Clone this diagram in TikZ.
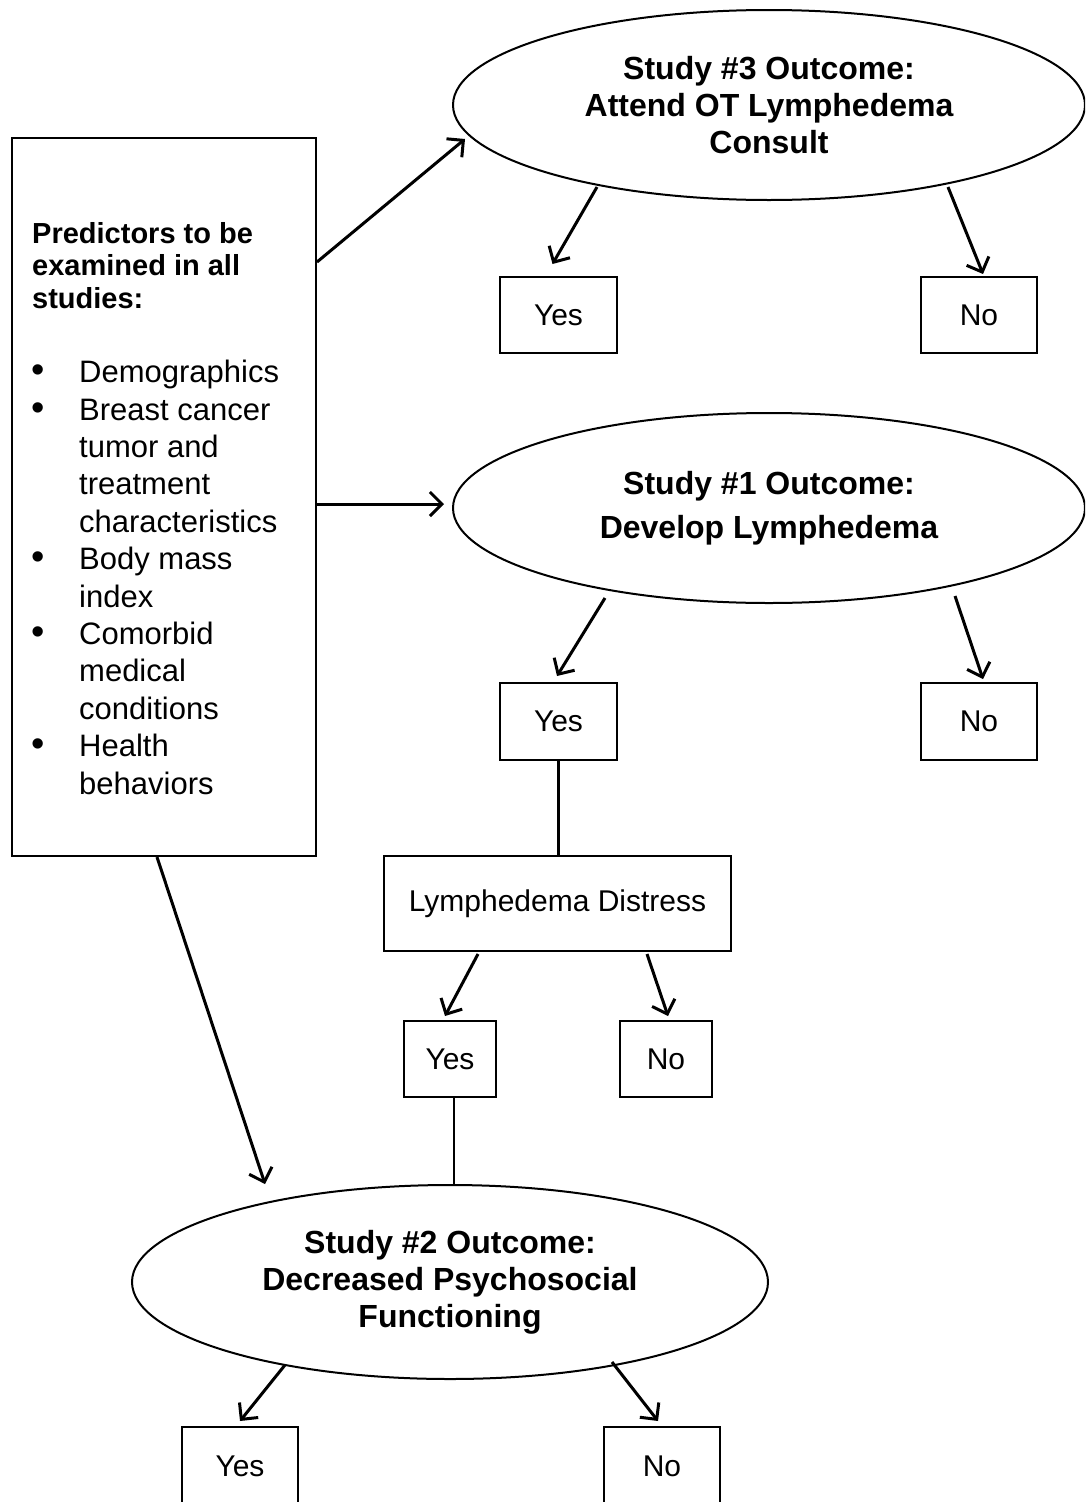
\documentclass[tikz,border=0pt]{standalone}
\usepackage{fontspec}
\setmainfont{Liberation Sans}
\usetikzlibrary{arrows.meta,shapes.geometric}
\begin{document}
\begin{tikzpicture}[x=1pt,y=-1pt,
  box/.style={draw, line width=2pt, rectangle, inner sep=0pt, font=\fontsize{30}{36}\selectfont},
  oval/.style={draw, line width=2pt, ellipse, minimum width=632pt, minimum height=190pt, inner sep=0pt, align=center, font=\fontsize{32}{37}\selectfont\bfseries},
  arr/.style={line width=3pt, -{Straight Barb[length=12pt,width=24pt]}},
  link/.style={line width=2.6pt},
  btxt/.style={anchor=north west, align=left, inner sep=0pt}]
\useasboundingbox (0,0) rectangle (1085,1502);
\clip (0,0) rectangle (1085,1502);
\fill[white] (0,0) rectangle (1085,1502);

% predictors box
\node[box, minimum width=304pt, minimum height=718pt] (pred) at (164,497) {};
\node[btxt, font=\fontsize{29}{32.5}\selectfont\bfseries] (predhead) at (32,222)
  {Predictors to be\\examined in all\\studies:};
\newcommand{\blt}{\makebox[47pt][l]{\hspace*{-1pt}\raisebox{0pt}{\fontsize{38}{37}\selectfont •}}}
\newcommand{\bind}{\hspace*{47pt}}
\node[btxt, font=\fontsize{31}{37.4}\selectfont] (predlist) at (32,360)
  {\blt Demographics\\
   \blt Breast cancer\\
   \bind tumor and\\
   \bind treatment\\
   \bind characteristics\\
   \blt Body mass\\
   \bind index\\
   \blt Comorbid\\
   \bind medical\\
   \bind conditions\\
   \blt Health\\
   \bind behaviors};

% outcome ellipses
\node[oval] (e3) at (769,105) {Study \#3 Outcome:\\Attend OT Lymphedema\\Consult};
\node[oval] (e1) at (769,508) {Study \#1 Outcome:\\[7pt]Develop Lymphedema};
\node[oval, minimum width=636pt, minimum height=194pt] (e2) at (450,1282) {Study \#2 Outcome:\\Decreased Psychosocial\\Functioning};

% yes/no boxes
\node[box, minimum width=117pt, minimum height=76pt] (y3) at (558.5,315) {Yes};
\node[box, minimum width=116pt, minimum height=76pt] (n3) at (979,315) {No};
\node[box, minimum width=117pt, minimum height=77pt] (y1) at (558.5,721.5) {Yes};
\node[box, minimum width=116pt, minimum height=77pt] (n1) at (979,721.5) {No};
\node[box, minimum width=347pt, minimum height=95pt] (dist) at (557.5,903.5) {Lymphedema Distress};
\node[box, minimum width=92pt, minimum height=76pt] (yd) at (450,1059) {Yes};
\node[box, minimum width=92pt, minimum height=76pt] (nd) at (666,1059) {No};
\node[box, minimum width=116pt, minimum height=80pt] (y2) at (240,1467) {\raisebox{2pt}{Yes}};
\node[box, minimum width=116pt, minimum height=80pt] (n2) at (662,1467) {\raisebox{2pt}{No}};

% connectors
\draw[arr] ([shift={(0,-235)}]pred.east) -- ([shift={(-304,34)}]e3.center);
\draw[arr] ([shift={(0,7)}]pred.east) -- ([shift={(-8,-4)}]e1.west);
\draw[arr] ([shift={(-7,0)}]pred.south) -- ([shift={(-185,0)}]e2.north);

\draw[arr] ([shift={(-172,82)}]e3.center) -- ([shift={(-6,-12)}]y3.north);
\draw[arr] ([shift={(179,82)}]e3.center) -- ([shift={(4,-2)}]n3.north);

\draw[arr] ([shift={(-164,90)}]e1.center) -- ([shift={(-1.5,-6)}]y1.north);
\draw[arr] ([shift={(186,88)}]e1.center) -- ([shift={(4,-3)}]n1.north);

\draw[link] (y1.south) -- (y1.south |- dist.north);

\draw[arr] ([shift={(-79.5,2)}]dist.south) -- ([shift={(-5,-4)}]yd.north);
\draw[arr] ([shift={(89.5,2)}]dist.south) -- ([shift={(2,-4)}]nd.north);

\draw[link] ([xshift=4pt]yd.south) -- ([xshift=4pt,yshift=-88pt]yd.south);

\draw[arr] ([shift={(-165,83)}]e2.center) -- ([shift={(0,-5)}]y2.north);
\draw[arr] ([shift={(162,80)}]e2.center) -- ([shift={(-4,-5)}]n2.north);
\end{tikzpicture}
\end{document}
